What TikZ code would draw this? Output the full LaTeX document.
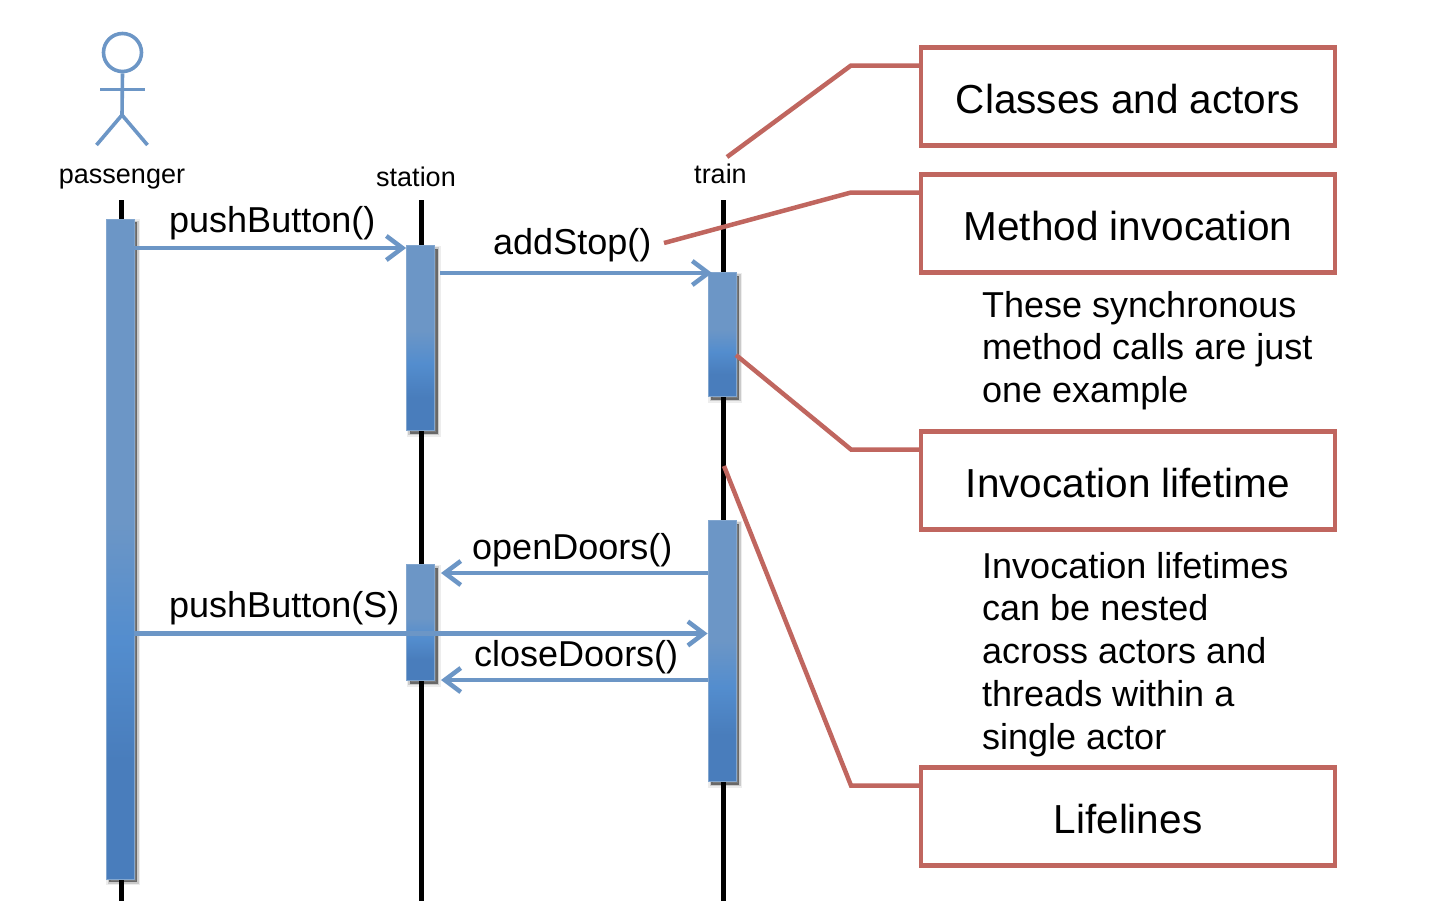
\documentclass[tikz,border=0pt]{standalone}
\usepackage{fontspec}
\setmainfont{Liberation Sans}
\usetikzlibrary{arrows.meta,calc}
\definecolor{blueline}{HTML}{6C96C6}
\definecolor{redline}{HTML}{C0665F}
\definecolor{barA}{HTML}{6C96C6}
\definecolor{barB}{HTML}{538DCE}
\definecolor{barC}{HTML}{497DBC}
\pgfdeclareverticalshading{barshade}{100bp}{color(0bp)=(barC); color(25bp)=(barC); color(34bp)=(barC); color(43bp)=(barB); color(52bp)=(barA); color(75bp)=(barA); color(100bp)=(barA)}
\tikzset{
  x=1pt,y=-1pt,
  lifeline/.style={draw=black,line width=4.5pt},
  actorline/.style={draw=blueline,line width=3.6pt},
  barnode/.style={shading=barshade,draw=blueline!85!white,line width=.8pt,inner sep=0pt,minimum width=28pt,
    preaction={draw=black,opacity=.07,line width=6pt,fill=black,transform canvas={shift={(3pt,-3pt)}}},
    preaction={draw=black,opacity=.15,line width=3pt,fill=black,transform canvas={shift={(3pt,-3pt)}}},
    preaction={fill=black,opacity=.35,transform canvas={shift={(3pt,-3pt)}}}},
  msg/.style={draw=blueline,line width=4.5pt,-{Straight Barb[length=16pt,width=24pt,line width=4.5pt]}},
  callout/.style={draw=redline,line width=4.5pt},
  notebox/.style={draw=redline,line width=4.5pt,fill=white,minimum width=414pt,minimum height=98pt,inner sep=0pt,text height=35pt,font=\fontsize{40.5}{48}\selectfont},
  small/.style={font=\fontsize{27}{32}\selectfont,inner sep=0pt,anchor=base},
  call/.style={font=\fontsize{36}{42}\selectfont,inner sep=0pt,anchor=base west},
  note/.style={font=\fontsize{36}{42.7}\selectfont,inner sep=0pt,anchor=north west,align=left},
}
\begin{document}
\begin{tikzpicture}
\useasboundingbox (0,0) rectangle (1446,908);
% lifeline ends
\coordinate (ptop) at (121.5,200); \coordinate (pbot) at (121.5,901);
\coordinate (stop) at (421.5,200); \coordinate (sbot) at (421.5,901);
\coordinate (ttop) at (723.5,200); \coordinate (tbot) at (723.5,901);
\draw[lifeline] (ptop) -- (pbot);
\draw[lifeline] (stop) -- (sbot);
\draw[lifeline] (ttop) -- (tbot);
% actor
\node[circle,draw=blueline,line width=3.6pt,minimum size=38pt,inner sep=0pt] (head) at (122.5,52.5) {};
\coordinate (hip) at (122,115);
\coordinate (armL) at (100,89.5); \coordinate (armR) at (145,89.5);
\coordinate (legL) at (96.5,145); \coordinate (legR) at (147.5,145);
\draw[actorline] (head.south) -- (hip);
\draw[actorline] (armL) -- (armR);
\draw[actorline] (legL) -- (hip) -- (legR);
% names
\node[small] (passenger) at (122,183) {passenger};
\node[small] (station) at (416,186) {station};
\node[small] (train) at (720.5,183) {train};
% bars
\node[barnode,minimum height=660pt] (pbar) at (120,549) {};
\node[barnode,minimum height=185pt] (sbarA) at (420.5,338) {};
\node[barnode,minimum height=116pt] (sbarB) at (420.5,622.5) {};
\node[barnode,minimum height=124pt] (tbarA) at (722,334.5) {};
\node[barnode,minimum height=261pt] (tbarB) at (722,651) {};
% message rows
\coordinate (rowA) at (0,248); \coordinate (rowB) at (0,273); \coordinate (rowC) at (0,573);
\coordinate (rowD) at (0,633.5); \coordinate (rowE) at (0,680);
\coordinate (addS) at (440,273); \coordinate (addE) at (712,273);
\coordinate (openE) at (441,573); \coordinate (closeE) at (441,680);
\draw[msg] (pbar.east |- rowA) -- (sbarA.west |- rowA);
\draw[msg] (addS) -- (addE);
\draw[msg] (tbarB.west |- rowC) -- (openE);
\draw[msg] (pbar.east |- rowD) -- (tbarB.west |- rowD);
\draw[msg] (tbarB.west |- rowE) -- (closeE);
% call labels
\node[call] (lpush) at (169,232) {pushButton()};
\node[call] (ladd) at (493,254) {addStop()};
\node[call] (lopen) at (472,559) {openDoors()};
\node[call] (lpushS) at (169,617) {pushButton(S)};
\node[call] (lclose) at (474,666) {closeDoors()};
% boxes
\node[notebox] (bclass) at (1128,96.5) {Classes and actors};
\node[notebox] (bmethod) at (1128,223.5) {Method invocation};
\node[notebox] (blife) at (1128,480.5) {Invocation lifetime};
\node[notebox] (bline) at (1128,816.5) {Lifelines};
% callouts
\coordinate (cA) at (727,157); \coordinate (cB) at (664,243); \coordinate (cC) at (736,355); \coordinate (cD) at (724,466);
\coordinate (kA) at (851,65.5); \coordinate (kB) at (851,192.5); \coordinate (kC) at (851,449.5); \coordinate (kD) at (851,785.5);
\draw[callout] (cA) -- (kA) -- (bclass.west |- kA);
\draw[callout] (cB) -- (kB) -- (bmethod.west |- kB);
\draw[callout] (cC) -- (kC) -- (blife.west |- kC);
\draw[callout] (cD) -- (kD) -- (bline.west |- kD);
% notes
\node[note] (noteA) at (982,291) {These synchronous\\method calls are just\\one example};
\node[note] (noteB) at (982,552) {Invocation lifetimes\\can be nested\\across actors and\\threads within a\\single actor};
\end{tikzpicture}
\end{document}
